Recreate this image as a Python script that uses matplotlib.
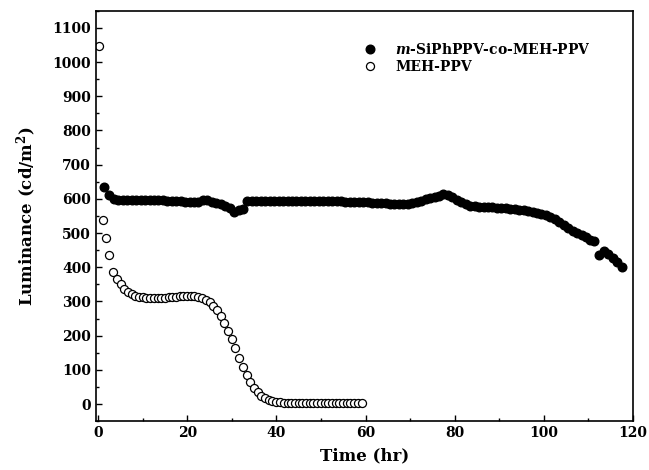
import matplotlib
matplotlib.use("Agg")
import matplotlib.pyplot as plt
from matplotlib.ticker import MultipleLocator

plt.rcParams['font.family'] = 'DejaVu Serif'
plt.rcParams['font.weight'] = 'bold'
plt.rcParams['mathtext.fontset'] = 'custom'
plt.rcParams['mathtext.rm'] = 'DejaVu Serif:bold'
plt.rcParams['mathtext.bf'] = 'DejaVu Serif:bold'
plt.rcParams['mathtext.it'] = 'DejaVu Serif:bold:italic'
plt.rcParams['mathtext.bfit'] = 'DejaVu Serif:bold:italic'

# m-SiPhPPV-co-MEH-PPV (filled)
t_copol = [1.2, 2.5, 3.5, 4.5, 5.5, 6.5, 7.5, 8.5, 9.5, 10.5,
           11.5, 12.5, 13.5, 14.5, 15.5, 16.5, 17.5, 18.5, 19.5, 20.5,
           21.5, 22.5, 23.5, 24.5, 25.5, 26.5, 27.5, 28.5, 29.5, 30.5,
           31.5, 32.5, 33.5, 34.5, 35.5, 36.5, 37.5, 38.5, 39.5, 40.5,
           41.5, 42.5, 43.5, 44.5, 45.5, 46.5, 47.5, 48.5, 49.5, 50.5,
           51.5, 52.5, 53.5, 54.5, 55.5, 56.5, 57.5, 58.5, 59.5, 60.5,
           61.5, 62.5, 63.5, 64.5, 65.5, 66.5, 67.5, 68.5, 69.5, 70.5,
           71.5, 72.5, 73.5, 74.5, 75.5, 76.5, 77.5, 78.5, 79.5, 80.5,
           81.5, 82.5, 83.5, 84.5, 85.5, 86.5, 87.5, 88.5, 89.5, 90.5,
           91.5, 92.5, 93.5, 94.5, 95.5, 96.5, 97.5, 98.5, 99.5, 100.5,
           101.5, 102.5, 103.5, 104.5, 105.5, 106.5, 107.5, 108.5, 109.5, 110.5,
           111.3, 112.4, 113.6, 114.5, 115.5, 116.5, 117.5]
L_copol = [636, 610, 601, 598, 597, 597, 597, 597, 597, 596,
           596, 596, 596, 596, 595, 594, 594, 593, 592, 592,
           591, 590, 596, 597, 592, 588, 584, 580, 572, 562,
           568, 569, 594, 594, 594, 594, 594, 594, 594, 594,
           594, 594, 594, 594, 594, 594, 594, 594, 594, 594,
           594, 594, 593, 593, 592, 592, 592, 591, 590, 590,
           589, 588, 588, 587, 586, 586, 585, 585, 586, 588,
           591, 595, 599, 603, 606, 609, 613, 612, 606, 598,
           591, 585, 579, 578, 577, 577, 576, 575, 574, 573,
           572, 571, 569, 567, 566, 564, 562, 560, 557, 553,
           547, 540, 532, 524, 515, 507, 500, 494, 488, 481,
           476, 437, 448, 438, 428, 416, 401]

# MEH-PPV (open)
t_meh = [0.2, 1.0, 1.7, 2.5, 3.4, 4.1, 5.0, 5.8, 6.7, 7.5,
         8.3, 9.1, 10.0, 10.8, 11.6, 12.5, 13.3, 14.1, 15.0, 15.8,
         16.6, 17.5, 18.3, 19.1, 20.0, 20.8, 21.6, 22.5, 23.3, 24.1,
         25.0, 25.8, 26.6, 27.5, 28.3, 29.1, 30.0, 30.8, 31.6, 32.5,
         33.3, 34.1, 35.0, 35.8, 36.6, 37.5, 38.3, 39.1, 40.0, 40.8,
         41.6, 42.5, 43.3, 44.1, 45.0, 45.8, 46.6, 47.5, 48.3, 49.1,
         50.0, 50.8, 51.6, 52.5, 53.3, 54.1, 55.0, 55.8, 56.6, 57.5,
         58.3, 59.1]
L_meh = [1047, 537, 487, 437, 385, 365, 350, 337, 328, 321,
         317, 314, 312, 311, 310, 310, 310, 310, 311, 312,
         313, 314, 315, 316, 316, 316, 315, 313, 310, 305,
         298, 288, 274, 257, 237, 215, 190, 163, 136, 108,
         84, 65, 48, 35, 24, 17, 12, 9, 7, 5,
         4, 4, 3, 3, 3, 3, 3, 3, 3, 3,
         3, 3, 3, 3, 3, 3, 3, 3, 3, 3,
         3, 3]

fig = plt.figure(figsize=(6.49, 4.70), dpi=100)
ax = fig.add_axes([0.148, 0.104, 0.827, 0.873])

ax.plot(t_copol, L_copol, 'o', color='black', markersize=6.2, linestyle='none',
        label=r'$\mathbfit{m}$-SiPhPPV-co-MEH-PPV')
ax.plot(t_meh, L_meh, 'o', markerfacecolor='white', markeredgecolor='black',
        markeredgewidth=0.9, markersize=5.8, linestyle='none', label='MEH-PPV')

ax.set_xlim(-0.5, 120)
ax.set_ylim(-50, 1150)
ax.xaxis.set_major_locator(MultipleLocator(20))
ax.xaxis.set_minor_locator(MultipleLocator(10))
ax.yaxis.set_major_locator(MultipleLocator(100))
ax.yaxis.set_minor_locator(MultipleLocator(50))
ax.tick_params(which='both', direction='in', top=False, right=False, labelsize=10, width=1.0)
ax.tick_params(which='major', length=4)
ax.tick_params(which='minor', length=2.5)
for s in ax.spines.values():
    s.set_linewidth(1.2)

ax.set_xlabel('Time (hr)', fontsize=12, fontweight='bold', labelpad=5)
ax.set_ylabel(r'Luminance (cd/m$^\mathbf{2}$)', fontsize=12, fontweight='bold', labelpad=10)

ax.legend(loc='upper left', bbox_to_anchor=(0.462, 0.955), frameon=False, fontsize=10,
          handletextpad=0.8, labelspacing=0.25, markerscale=1.0)

plt.savefig('out.png', dpi=100)
